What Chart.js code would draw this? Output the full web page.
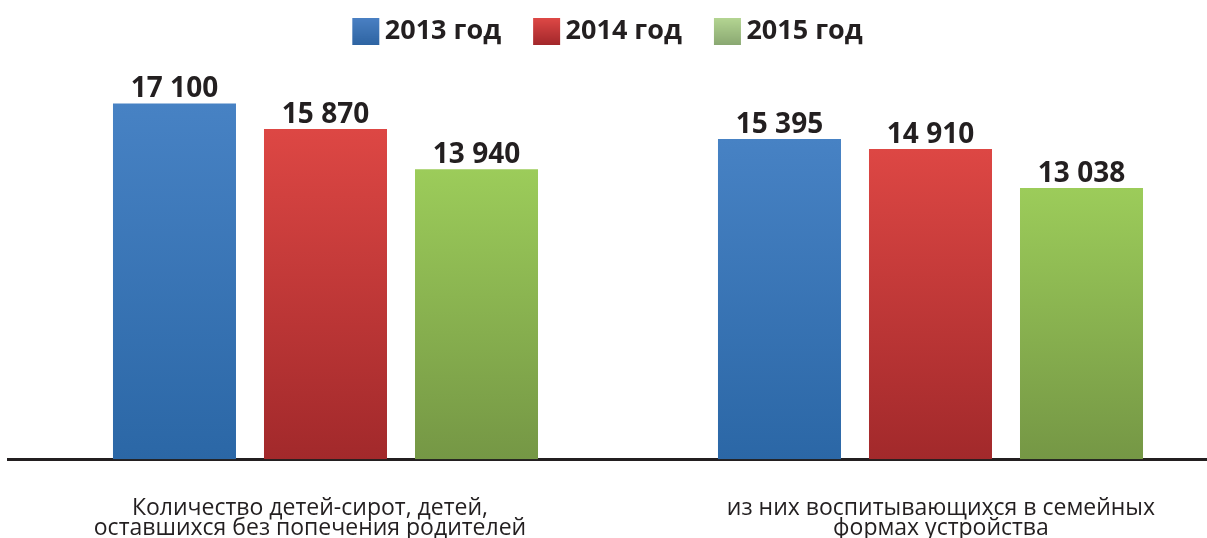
<!DOCTYPE html>
<html><head><meta charset="utf-8">
<script src="https://cdn.jsdelivr.net/npm/chart.js@4"></script>
<style>html,body{margin:0;padding:0;background:#fff;overflow:hidden}#wrap{width:1207px;height:538px}</style>
</head><body><div id="wrap"><canvas id="c" width="1207" height="538"></canvas></div>
<script>
const categories = [
  ["Количество детей-сирот, детей,", "оставшихся без попечения родителей"],
  ["из них воспитывающихся в семейных", "формах устройства"]
];
const seriesNames = ["2013 год", "2014 год", "2015 год"];
const values2013 = [17100, 15395];
const values2014 = [15870, 14910];
const values2015 = [13940, 13038];

const barColors = [["#4782c4", "#2b67a6"], ["#dd4744", "#a2292b"], ["#9ccc5a", "#759745"]];
const legendColors = [["#4a80c3", "#2e64a2"], ["#de4846", "#a2272b"], ["#b4d592", "#8aa872"]];
const TEXT = "#231f20";

function legendImg(cols) {
  const c = document.createElement('canvas');
  c.width = 55; c.height = 27;
  const g = c.getContext('2d');
  const gr = g.createLinearGradient(0, 0, 0, 27);
  gr.addColorStop(0, cols[0]); gr.addColorStop(1, cols[1]);
  g.fillStyle = gr; g.fillRect(18, 0, 27, 27);
  return c;
}
const legendImgs = legendColors.map(legendImg);

function fmt(v) { return String(v).replace(/\B(?=(\d{3})+(?!\d))/g, ' '); }

function barGradient(i) {
  return (ctx) => {
    const chart = ctx.chart;
    if (!chart.chartArea || !ctx.parsed) return barColors[i][0];
    const y = chart.scales.y;
    const top = y.getPixelForValue(ctx.parsed.y), bot = y.getPixelForValue(0);
    const g = chart.ctx.createLinearGradient(0, top, 0, bot);
    g.addColorStop(0, barColors[i][0]); g.addColorStop(1, barColors[i][1]);
    return g;
  };
}

const seriesValues = [values2013, values2014, values2015];
const datasets = seriesValues.map((vals, i) => ({
  label: seriesNames[i],
  data: vals.map((v, k) => ({ x: k, y: v })),
  backgroundColor: barGradient(i),
  borderWidth: 0,
  categoryPercentage: 0.7488,
  barPercentage: 0.8146,
  xAxisID: 'x', yAxisID: 'y'
}));

const valueLabels = {
  id: 'valueLabels',
  afterDatasetsDraw(chart) {
    const ctx = chart.ctx;
    ctx.save();
    ctx.font = "bold 28px 'Open Sans'";
    ctx.fillStyle = TEXT;
    ctx.textAlign = 'center';
    ctx.textBaseline = 'alphabetic';
    chart.data.datasets.forEach((ds, i) => {
      chart.getDatasetMeta(i).data.forEach((el, k) => {
        ctx.fillText(fmt(ds.data[k].y), el.x, el.y - 6);
      });
    });
    ctx.restore();
  }
};

new Chart(document.getElementById('c'), {
  type: 'bar',
  data: { datasets },
  options: {
    responsive: false,
    devicePixelRatio: 1,
    animation: false,
    layout: { padding: { left: 8, right: 0, top: -14, bottom: -39.5 } },
    plugins: {
      tooltip: { enabled: false },
      legend: {
        position: 'top',
        labels: {
          usePointStyle: true,
          pointStyleWidth: 19,
          padding: 32,
          color: TEXT,
          font: { family: "'Open Sans'", size: 27, weight: 'bold' },
          generateLabels: (chart) => chart.data.datasets.map((ds, i) => ({
            text: ds.label, pointStyle: legendImgs[i], fillStyle: 'transparent',
            strokeStyle: 'transparent', lineWidth: 0, hidden: !chart.isDatasetVisible(i),
            datasetIndex: i, fontColor: TEXT
          }))
        }
      }
    },
    scales: {
      x: {
        type: 'linear', position: 'bottom', offset: false,
        min: -0.52479, max: 1.45703,
        afterBuildTicks: (s) => { s.ticks = categories.map((c, k) => ({ value: k })); },
        ticks: { display: false },
        grid: { display: false, drawTicks: false, offset: false },
        border: { display: true, color: TEXT, width: 3 }
      },
      x2: {
        type: 'linear', position: 'bottom', offset: false,
        min: -0.4786, max: 1.4216,
        afterBuildTicks: (s) => { s.ticks = categories.map((c, k) => ({ value: k })); },
        ticks: {
          padding: 40, color: TEXT, maxRotation: 0, autoSkip: false,
          font: { family: "'Open Sans'", size: 23, lineHeight: 0.83 },
          callback: (v) => categories[v] || ''
        },
        grid: { display: false, drawTicks: false, offset: false },
        border: { display: false }
      },
      y: {
        display: false, min: 0, max: 19430
      }
    }
  },
  plugins: [valueLabels]
});
</script>
</body></html>
